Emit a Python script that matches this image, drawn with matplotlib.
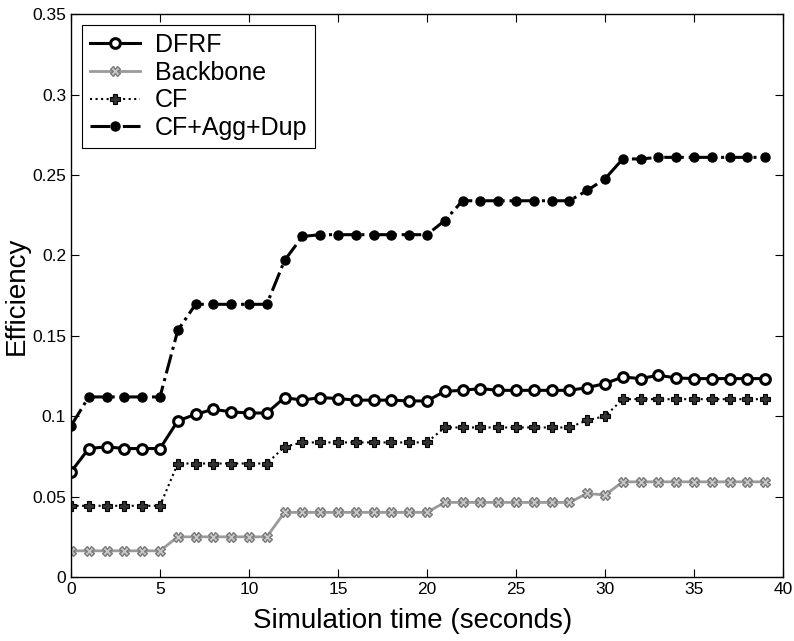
import numpy as np
import matplotlib
matplotlib.use('Agg')
import matplotlib.pyplot as plt

plt.rcParams['font.family'] = ['Liberation Sans', 'DejaVu Sans']

# simulation time points (seconds)
t = np.arange(0, 40)

dfrf = [0.0654, 0.0799, 0.081, 0.0799, 0.0799, 0.0799,
        0.0971, 0.1012, 0.1043, 0.1027, 0.102, 0.102,
        0.1116, 0.110, 0.1116, 0.111, 0.110, 0.110, 0.110, 0.1095,
        0.1095, 0.1155, 0.1161, 0.1172, 0.1161, 0.1161, 0.1161, 0.1161, 0.1161,
        0.1178, 0.1203, 0.1244, 0.1234, 0.1255, 0.1238,
        0.1234, 0.1234, 0.1234, 0.1234, 0.1234]

backbone = [0.0163] * 6 + [0.025] * 6 + [0.0402] * 9 + \
           [0.0464] * 8 + [0.052, 0.051] + [0.0592] * 9

cf = [0.0443] * 6 + [0.0706] * 6 + [0.081] + [0.0837] * 8 + \
     [0.093] * 8 + [0.0975, 0.100] + [0.1106] * 9

cf_agg_dup = [0.094] + [0.112] * 5 + [0.1534] + [0.1696] * 5 + \
             [0.1969, 0.2118] + [0.2129] * 7 + [0.2217] + [0.234] * 7 + \
             [0.2404, 0.2476, 0.260, 0.260] + [0.261] * 7

fig = plt.figure(figsize=(7.94, 6.41), dpi=100)
ax = fig.add_axes([0.0894, 0.0998, 0.8967, 0.878])

ax.plot(t, dfrf, '-', color='black', lw=2.2, marker='o', ms=7,
        mfc='white', mec='black', mew=2.2, label='DFRF')
ax.plot(t, backbone, '-', color='#9a9a9a', lw=2, marker='X', ms=6.5,
        mfc='#c8c8c8', mec='#7a7a7a', mew=1, label='Backbone')
ax.plot(t, cf, ':', color='black', lw=1.5, marker='P', ms=7,
        mfc='#333333', mec='black', mew=0.8, label='CF')
ax.plot(t, cf_agg_dup, '-.', color='black', lw=2.2, marker='o', ms=6.5,
        mfc='black', mec='black', label='CF+Agg+Dup')

ax.set_xlim(0, 40)
ax.set_ylim(0, 0.35)
ax.set_xticks(range(0, 41, 5))
ax.set_yticks(np.arange(0, 0.351, 0.05))
ax.set_yticklabels(['0', '0.05', '0.1', '0.15', '0.2', '0.25', '0.3', '0.35'])
ax.tick_params(direction='in', top=True, right=True, length=6, labelsize=12.5)
for s in ax.spines.values():
    s.set_linewidth(1.0)

ax.set_xlabel('Simulation time (seconds)', fontsize=20)
ax.xaxis.set_label_coords(0.48, -0.055, transform=ax.transAxes)
ax.xaxis.label.set_va('top')
ax.set_ylabel('Efficiency', fontsize=20, labelpad=2)

leg = ax.legend(loc='upper left', fontsize=18, fancybox=False,
                edgecolor='black', framealpha=1, borderaxespad=0.45,
                handlelength=2.0, handletextpad=0.6, labelspacing=0.15,
                borderpad=0.3)
leg.get_frame().set_linewidth(0.8)

fig.savefig('out.png', dpi=100)
